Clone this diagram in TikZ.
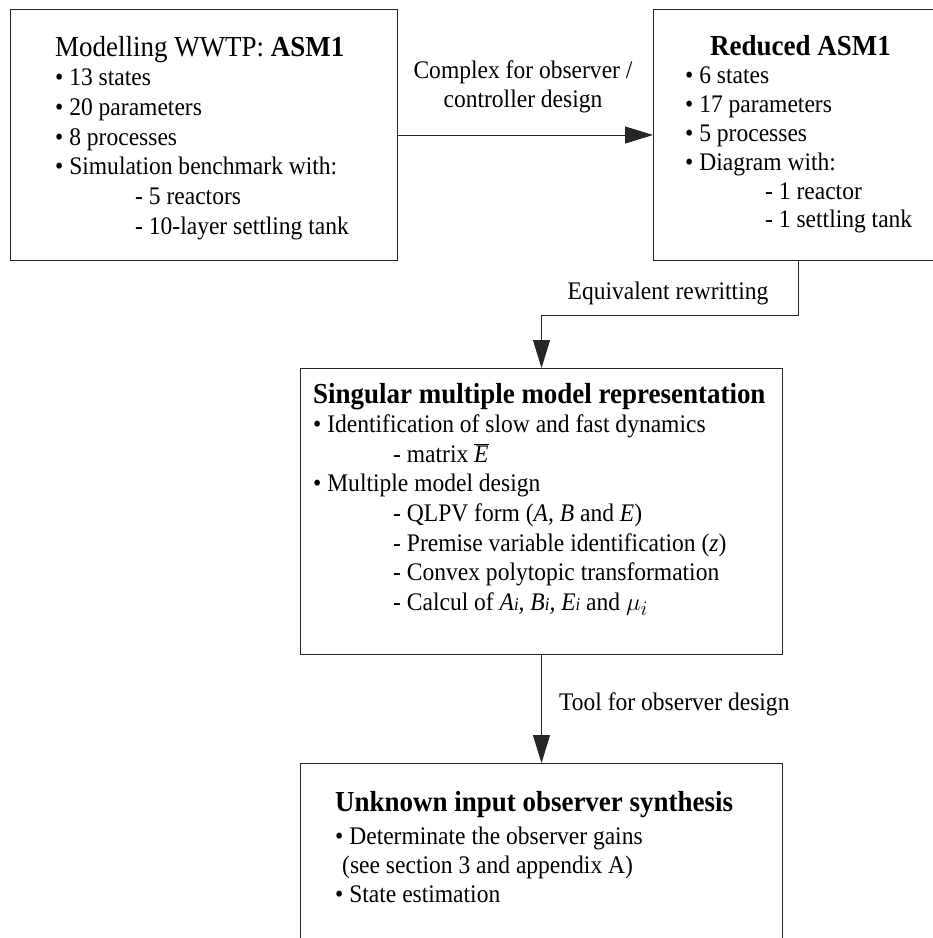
\documentclass[tikz,border=0pt]{standalone}
\usepackage{fontspec}
\setmainfont{Liberation Serif}[FakeStretch=0.93]
\usetikzlibrary{arrows.meta}

\tikzset{
  block/.style={draw=black!85, line width=1pt, anchor=north west, inner sep=0pt},
  body/.style={anchor=base west, inner sep=0pt, text width=520pt, align=flush left,
    font=\fontsize{25.3}{29.7}\selectfont},
  flowlbl/.style={inner sep=0pt, font=\fontsize{25.3}{29}\selectfont},
  flow/.style={line width=1pt, draw=black!85, -{Triangle[length=28pt,width=17pt]}}
}
\newcommand{\heading}[1]{{\fontsize{29}{30}\selectfont #1}}
\newcommand{\itm}{\textbullet\ }
\newcommand{\subline}{\hspace*{80pt}- }
\newcommand{\smi}{{\fontsize{18}{18}\selectfont i}}

\begin{document}
\begin{tikzpicture}[x=1pt, y=-1pt]
  \useasboundingbox (0,0) rectangle (933,938);
  % boxes
  \node[block, minimum width=387pt, minimum height=251pt] (wwtp) at (10,9) {};
  \node[block, minimum width=290pt, minimum height=251pt] (reduced) at (653,9) {};
  \node[block, minimum width=482pt, minimum height=286pt] (singular) at (300,368) {};
  \node[block, minimum width=482pt, minimum height=178pt] (uio) at (300,763) {};
  % box texts
  \node[body] (wwtptxt) at (55,56) {\heading{Modelling WWTP: \textbf{ASM1}}\\
    \itm 13 states\\
    \itm 20 parameters\\
    \itm 8 processes\\
    \itm Simulation benchmark with:\\
    \subline 5 reactors\\
    \subline 10-layer settling tank};
  \node[body, font=\fontsize{25.3}{28.8}\selectfont] (reducedtxt) at (685,55) {\hspace*{25pt}\heading{\textbf{Reduced ASM1}}\\
    \itm 6 states\\
    \itm 17 parameters\\
    \itm 5 processes\\
    \itm Diagram with:\\
    \subline 1 reactor\\
    \subline 1 settling tank};
  \node[body, font=\fontsize{25.3}{29.6}\selectfont] (singulartxt) at (313,403) {\heading{\textbf{Singular multiple model representation}}\\
    \itm Identification of slow and fast dynamics\\
    \subline matrix $\overline{\mbox{\textit{E}}}$\\
    \itm Multiple model design\\
    \subline QLPV form (\textit{A, B} and \textit{E})\\
    \subline Premise variable identification (\textit{z})\\
    \subline Convex polytopic transformation\\
    \subline Calcul of \textit{A\smi, B\smi, E\smi} and {\fontsize{31}{30}\selectfont$\mu_{i}$}};
  \node[body, font=\fontsize{25.3}{28.7}\selectfont] (uiotxt) at (335,811) {\heading{\textbf{Unknown input observer synthesis}}\\[5pt]
    \itm Determinate the observer gains\\
    \hspace*{7pt}(see section 3 and appendix A)\\
    \itm State estimation};
  % connectors
  \draw[flow] (wwtp.east) -- (reduced.west);
  \draw[flow] (reduced.south) -- ++(0,54) -| (singular.north);
  \draw[flow] (singular.south) -- (uio.north);
  % connector labels
  \node[flowlbl, text width=260pt, align=flush center, anchor=base] (complexlbl) at (523,78) {Complex for observer /\\controller design};
  \node[flowlbl, anchor=base] (equivlbl) at (668,299) {Equivalent rewritting};
  \node[flowlbl, anchor=base west] (toollbl) at (559,710) {Tool for observer design};
\end{tikzpicture}
\end{document}
